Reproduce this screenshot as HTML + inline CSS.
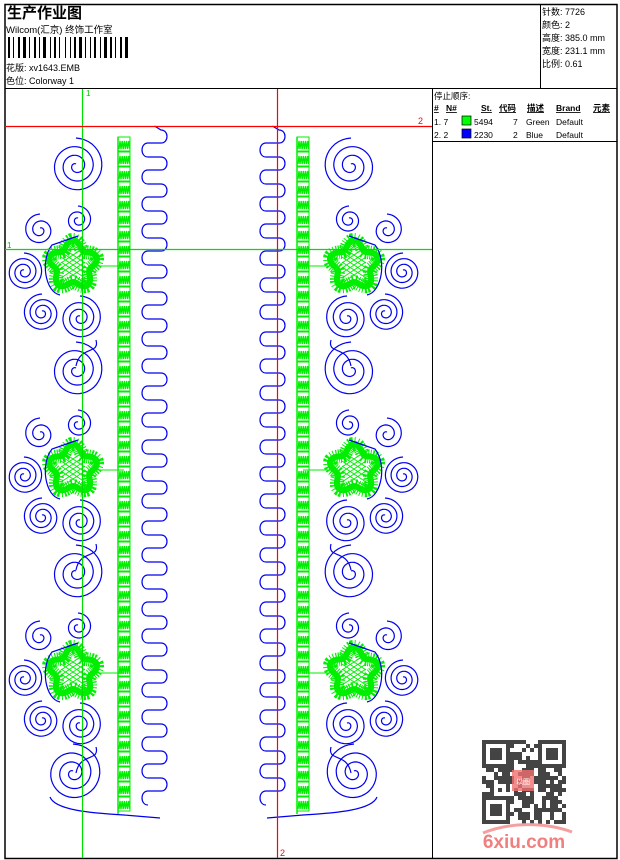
<!DOCTYPE html>
<html><head><meta charset="utf-8">
<style>
body{margin:0;background:#fff;width:620px;height:860px;overflow:hidden;font-family:"Liberation Sans","Noto Sans CJK SC",sans-serif;}
svg{position:absolute;left:0;top:0}
</style></head><body>
<svg id="s" width="620" height="860" viewBox="0 0 620 860" xmlns="http://www.w3.org/2000/svg" font-family="Liberation Sans, Noto Sans CJK SC, sans-serif">
<rect x="0" y="0" width="620" height="860" fill="#fff"/>
<rect x="5" y="4.5" width="612" height="854" fill="none" stroke="#000" stroke-width="1.5"/>
<line x1="5" y1="88.5" x2="617" y2="88.5" stroke="#000"/>
<line x1="540.5" y1="5" x2="540.5" y2="88" stroke="#000"/>
<line x1="432.5" y1="88" x2="432.5" y2="858" stroke="#000"/>
<line x1="432" y1="141.5" x2="617" y2="141.5" stroke="#000"/>
<text x="7" y="18" font-size="15" font-weight="bold">生产作业图</text>
<text x="6" y="33" font-size="9.5">Wilcom(汇京) 终饰工作室</text>
<g id="bar"></g>
<text x="6" y="71" font-size="9">花版:  xv1643.EMB</text>
<text x="6" y="84" font-size="9">色位:  Colorway 1</text>
<g font-size="9"><text x="542" y="15">针数: 7726</text><text x="542" y="28">颜色: 2</text><text x="542" y="41">高度: 385.0 mm</text><text x="542" y="54">宽度: 231.1 mm</text><text x="542" y="67">比例: 0.61</text></g>
<g font-size="8.5"><text x="434" y="99">停止顺序:</text>
<g font-weight="bold" text-decoration="underline"><text x="434" y="111">#</text><text x="446" y="111">N#</text><text x="481" y="111">St.</text><text x="499" y="111">代码</text><text x="527" y="111">描述</text><text x="556" y="111">Brand</text><text x="593" y="111">元素</text></g>
<text x="434" y="125">1. 7</text><rect x="462" y="116" width="9" height="9" fill="#00ff00" stroke="#000" stroke-width=".7"/><text x="474" y="125">5494</text><text x="513" y="125">7</text><text x="526" y="125">Green</text><text x="556" y="125">Default</text>
<text x="434" y="138">2. 2</text><rect x="462" y="129" width="9" height="9" fill="#0000ff" stroke="#000" stroke-width=".7"/><text x="474" y="138">2230</text><text x="513" y="138">2</text><text x="526" y="138">Blue</text><text x="556" y="138">Default</text></g>
<g id="d"></g>
<line x1="82.5" y1="89" x2="82.5" y2="858" stroke="#00e000" stroke-width="1.2"/>
<line x1="5" y1="249.5" x2="432" y2="249.5" stroke="#00e000" stroke-width="1.2"/>
<line x1="277.5" y1="89" x2="277.5" y2="858" stroke="#ff0000" stroke-width="1.2"/>
<line x1="5" y1="126.5" x2="432" y2="126.5" stroke="#ff0000" stroke-width="1.2"/>
<text x="86" y="96" font-size="8" fill="#00c000">1</text>
<text x="7" y="248" font-size="8" fill="#00c000">1</text>
<text x="418" y="124" font-size="9" fill="#f00">2</text>
<text x="280" y="856" font-size="9" fill="#f00">2</text>
<g id="qr"></g>
<rect x="512" y="770" width="22" height="21" fill="#f07070" opacity=".8"/>
<text x="523" y="784" font-size="7" fill="#fff" text-anchor="middle">以图</text>
<path d="M483,833 C510,822 545,822 572,832" fill="none" stroke="#f4a0a0" stroke-width="3"/>
<text x="524" y="848" font-size="19" font-weight="bold" fill="#f08080" text-anchor="middle">6xiu.com</text>
</svg>
<script>
var NS="http://www.w3.org/2000/svg";
function el(p,t,a){var e=document.createElementNS(NS,t);for(var k in a)e.setAttribute(k,a[k]);document.getElementById(p).appendChild(e);return e;}
// barcode
var x=8,w=[2,1,1,2,2,1,3,1,1,2,2,1,1,1,3,2,1,1,2,1,1,3,1,2,1,1,2,1,3,1,1,2,1,1,2,2,1,1,3,1,2,1,1,2,2,1,3,1];
for(var i=0;i<w.length;i++){if(i%2==0)el("bar","rect",{x:x,y:37,width:w[i],height:21,fill:"#000"});x+=w[i]+(i%2?2:0);}
var B="#0000ee",G="#00ee00";
function spiral(cx,cy,r,turns,dir){var d="";var n=turns*40;for(var i=0;i<=n;i++){var t=i/40*2*Math.PI;var rr=r*(1-i/n)+2;var a=dir*t-Math.PI/2;var px=cx+rr*Math.cos(a),py=cy+rr*Math.sin(a);d+=(i?"L":"M")+px.toFixed(1)+","+py.toFixed(1);}el("d","path",{d:d,fill:"none",stroke:B,"stroke-width":1.2});}
function flower(cx,cy){var d="";for(var i=0;i<=100;i++){var a=i/100*2*Math.PI;var r=21+4*Math.cos(5*a);d+=(i?"L":"M")+(cx+r*Math.cos(a-Math.PI/2)).toFixed(1)+","+(cy+r*Math.sin(a-Math.PI/2)).toFixed(1);}
el("d","path",{d:d,fill:"none",stroke:G,"stroke-width":14,"stroke-dasharray":"1 1.2"});
el("d","path",{d:d,fill:"none",stroke:G,"stroke-width":6});
for(var k=-2;k<=2;k++){el("d","line",{x1:cx-12,y1:cy+k*5-8,x2:cx+12,y2:cy+k*5+8,stroke:G,"stroke-width":1});el("d","line",{x1:cx-12,y1:cy+k*5+8,x2:cx+12,y2:cy+k*5-8,stroke:G,"stroke-width":1});}}
function side(m){function X(v){return m?427-v:v;}var dr=m?-1:1;
var ys=[0,204,407];
for(var j=0;j<3;j++){var o=ys[j];
spiral(X(76),166+o,26,3,dr);spiral(X(78),220+o,12,2,dr);spiral(X(40),230+o,14,2,-dr);
spiral(X(24),272+o,17,3,dr);spiral(X(42),313+o,17,3,-dr);spiral(X(80),318+o,20,3,dr);
flower(X(73),265+o);
el("d","line",{x1:X(95),y1:266+o,x2:X(124),y2:266+o,stroke:G,"stroke-width":1});
el("d","path",{d:"M"+X(60)+","+(295+o)+" C"+X(45)+","+(292+o)+" "+X(40)+","+(260+o)+" "+X(52)+","+(245+o)+" L"+X(78)+","+(236+o),fill:"none",stroke:B,"stroke-width":1.2});
el("d","path",{d:"M"+X(96)+","+(340+o)+" C"+X(100)+","+(355+o)+" "+X(80)+","+(345+o)+" "+X(76)+","+(366+o),fill:"none",stroke:B,"stroke-width":1.2});}
spiral(X(73),773,27,3,dr);
el("d","path",{d:"M"+X(50)+",797 C"+X(55)+",810 "+X(90)+",813 "+X(124)+",815 L"+X(160)+",818",fill:"none",stroke:B,"stroke-width":1.2});
var cx=X(124);
for(var y=137;y<812;y+=15){el("d","rect",{x:cx-6,y:y,width:12,height:14,fill:"none",stroke:G,"stroke-width":1});
var d="M"+(cx-5)+","+(y+12);for(var q=0;q<5;q++){d+="L"+(cx-4+q*2.2)+","+(y+4)+"L"+(cx-3+q*2.2)+","+(y+12);}el("d","path",{d:d,fill:"none",stroke:G,"stroke-width":1.3});}
el("d","line",{x1:cx-6,y1:137,x2:cx-6,y2:814,stroke:G,"stroke-width":1.5});
var L=Math.min(X(141),X(168)),R=Math.max(X(141),X(168));
var wv="M"+((L+R)/2)+",126";
for(var y2=130;y2<805;y2+=27){wv+=" L"+(R-7)+","+y2+" C"+(R+1)+","+y2+" "+(R+1)+","+(y2+13)+" "+(R-7)+","+(y2+13)+" L"+(L+7)+","+(y2+13)+" C"+(L-1)+","+(y2+13)+" "+(L-1)+","+(y2+27)+" "+(L+7)+","+(y2+27);}
el("d","path",{d:wv,fill:"none",stroke:B,"stroke-width":1.2});}
side(false);side(true);
var s=4,ox=482,oy=740;var seed=7;function rnd(){seed=(seed*9301+49297)%233280;return seed/233280;}
for(var i=0;i<21;i++)for(var j=0;j<21;j++){if(rnd()<.5)el("qr","rect",{x:ox+i*s,y:oy+j*s,width:s,height:s,fill:"#444"});}
[[0,0],[14,0],[0,14]].forEach(function(p){el("qr","rect",{x:ox+p[0]*s,y:oy+p[1]*s,width:28,height:28,fill:"#fff"});el("qr","rect",{x:ox+p[0]*s+2,y:oy+p[1]*s+2,width:24,height:24,fill:"none",stroke:"#444","stroke-width":4});el("qr","rect",{x:ox+p[0]*s+8,y:oy+p[1]*s+8,width:12,height:12,fill:"#444"});});
</script>
</body></html>
